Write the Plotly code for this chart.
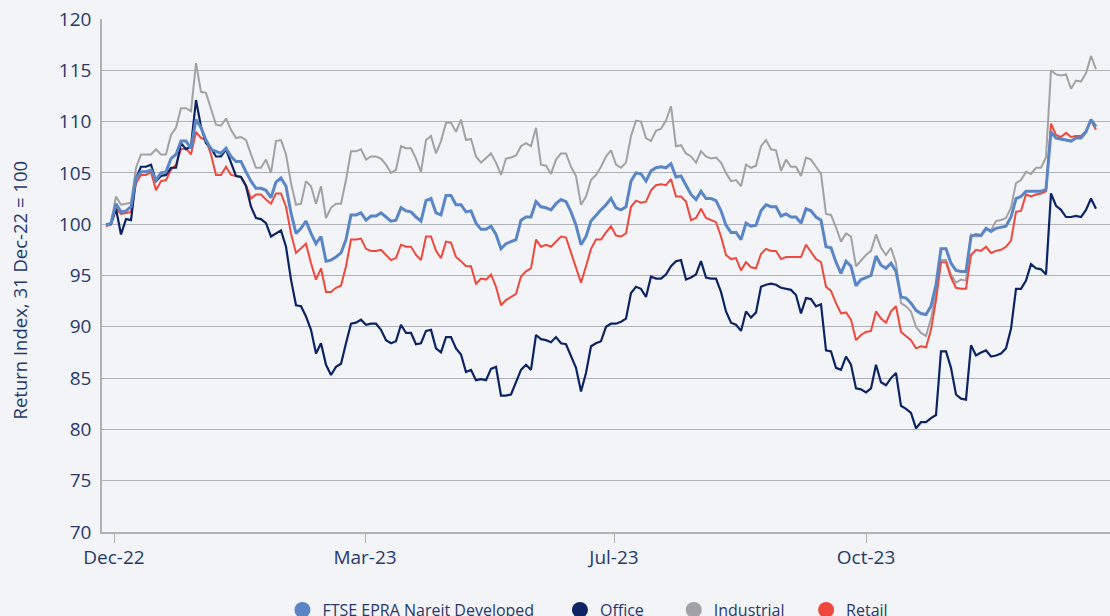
import plotly.graph_objects as go

# ---- data (one sample every ~1.8 days) ----
ftse = [99.9, 100.1, 102.0, 101.2, 101.3, 101.7, 104.5, 105.1, 105.1, 105.3, 104.3, 105.0, 105.1, 106.4, 106.8, 108.1, 108.1, 107.4, 110.2, 109.4, 108.2, 107.3, 107.1, 106.9, 107.4, 106.6, 106.1, 106.1, 105.1, 104.2, 103.5, 103.5, 103.3, 102.6, 104.1,
        104.5, 103.7, 101.1, 99.1, 99.6, 100.3, 99.1, 98.1, 98.8, 96.4, 96.5, 96.8, 97.2, 98.5, 100.9, 100.9, 101.1, 100.4, 100.8, 100.8, 101.1, 100.7, 100.3, 100.4, 101.6, 101.3, 101.2, 100.7,
        100.3, 102.3, 102.5, 101.1, 100.9, 102.8, 102.8, 101.9, 101.9, 101.2, 101.3, 100.1, 99.5, 99.5, 99.8, 99.0, 97.6, 98.1, 98.3, 98.5, 100.4, 100.7, 100.7, 102.2, 101.7, 101.6, 101.4, 102.0, 102.4,
        102.2, 101.2, 99.9, 98.0, 98.8, 100.3, 100.9, 101.4, 101.9, 102.5, 101.6, 101.4, 101.7, 104.2, 105.0, 104.9, 104.2, 105.2, 105.5, 105.6, 105.5, 105.9, 104.6, 104.7, 103.8, 102.9, 102.4, 103.2, 102.5,
        102.5, 102.3, 101.3, 99.9, 99.2, 99.2, 98.5, 100.1, 99.8, 99.9, 101.3, 101.9, 101.7, 101.7, 100.8, 101.0, 100.7, 100.7, 100.1, 101.5, 101.3, 100.7, 100.4, 97.8, 97.7, 96.3, 95.2, 96.4, 95.9,
        94.0, 94.6, 94.8, 95.0, 96.9, 96.0, 95.7, 96.2, 95.4, 92.9, 92.8, 92.3, 91.6, 91.3, 91.2, 92.0, 94.1, 97.6, 97.6, 96.2, 95.5, 95.4, 95.4, 98.8, 99.0, 98.9, 99.6, 99.3, 99.6,
        99.7, 99.8, 100.7, 102.5, 102.7, 103.2, 103.2, 103.2, 103.2, 103.4, 109.0, 108.4, 108.3, 108.2, 108.1, 108.4, 108.4, 109.0, 110.2, 109.5]

office = [100.0, 100.0, 101.5, 99.0, 100.5, 100.4, 104.5, 105.6, 105.6, 105.8, 104.2, 104.7, 104.8, 105.5, 105.5, 107.9, 107.3, 107.6, 112.1, 109.5, 107.9, 107.4, 106.6, 106.6, 107.3, 106.0, 104.7, 104.6, 103.7, 101.7, 100.6, 100.5, 100.1, 98.8, 99.1,
          99.4, 97.8, 94.6, 92.1, 92.0, 91.0, 89.7, 87.4, 88.4, 86.3, 85.3, 86.1, 86.4, 88.4, 90.3, 90.4, 90.7, 90.2, 90.3, 90.3, 89.7, 88.7, 88.4, 88.6, 90.2, 89.4, 89.4, 88.3,
          88.4, 89.6, 89.7, 87.9, 87.5, 89.0, 89.0, 87.9, 87.3, 85.6, 85.8, 84.8, 84.9, 84.8, 85.9, 86.1, 83.3, 83.3, 83.4, 84.6, 85.8, 86.3, 85.8, 89.2, 88.8, 88.7, 88.5, 89.0, 88.4,
          88.3, 87.1, 86.0, 83.7, 85.5, 88.1, 88.4, 88.6, 90.0, 90.3, 90.3, 90.5, 90.8, 93.3, 93.9, 93.7, 92.9, 94.9, 94.7, 94.7, 95.1, 95.9, 96.4, 96.5, 94.6, 94.8, 95.1, 96.4, 94.8,
          94.7, 94.7, 93.4, 91.5, 90.4, 90.2, 89.6, 91.5, 90.9, 91.4, 93.9, 94.1, 94.2, 94.1, 93.8, 93.7, 93.6, 93.1, 91.3, 92.8, 92.7, 92.0, 92.2, 87.7, 87.6, 86.0, 85.8, 87.1, 86.3,
          84.0, 83.9, 83.6, 84.0, 86.3, 84.6, 84.3, 85.0, 85.5, 82.3, 82.0, 81.6, 80.1, 80.7, 80.7, 81.1, 81.4, 87.6, 87.6, 86.0, 83.4, 83.0, 82.9, 88.2, 87.2, 87.5, 87.7, 87.1, 87.2,
          87.4, 87.9, 89.8, 93.7, 93.7, 94.5, 96.1, 95.7, 95.6, 95.1, 103.0, 101.8, 101.4, 100.7, 100.7, 100.8, 100.7, 101.4, 102.5, 101.5]

industrial = [99.9, 100.1, 102.7, 101.9, 102.0, 102.1, 105.5, 106.8, 106.8, 106.8, 107.3, 106.8, 106.8, 108.7, 109.4, 111.3, 111.3, 111.0, 115.7, 112.9, 112.8, 111.3, 109.7, 109.6, 110.3, 109.2, 108.4, 108.5, 108.2, 106.8, 105.5, 105.5, 106.3, 105.0, 108.1,
              108.2, 106.8, 104.0, 101.9, 102.0, 104.2, 103.7, 102.0, 103.7, 100.6, 101.6, 102.0, 102.0, 104.3, 107.1, 107.1, 107.3, 106.3, 106.6, 106.6, 106.4, 105.8, 105.0, 105.3, 107.6, 107.4, 107.4, 106.4,
              105.1, 108.2, 108.6, 106.9, 108.1, 109.9, 109.9, 109.0, 110.2, 108.2, 108.3, 106.6, 106.0, 106.5, 106.9, 106.0, 104.8, 106.4, 106.5, 106.7, 107.6, 107.9, 107.6, 109.4, 105.8, 105.7, 104.9, 106.3, 106.9,
              106.9, 105.6, 104.7, 101.9, 102.7, 104.3, 104.8, 105.6, 106.6, 107.2, 105.8, 105.5, 106.0, 108.6, 110.1, 110.0, 108.4, 108.1, 109.1, 109.3, 110.1, 111.5, 107.6, 107.7, 106.9, 106.6, 106.0, 107.1, 106.6,
              106.4, 106.5, 106.0, 105.0, 104.2, 104.3, 103.7, 105.8, 105.5, 105.7, 107.6, 108.2, 107.3, 107.2, 105.2, 106.3, 105.6, 105.6, 104.7, 106.5, 106.3, 105.6, 104.9, 101.0, 100.9, 99.7, 98.3, 99.1, 98.8,
              95.9, 96.5, 97.0, 97.4, 99.0, 97.7, 97.0, 97.7, 96.2, 92.3, 92.0, 91.5, 90.0, 89.4, 89.1, 90.8, 93.3, 96.5, 96.5, 95.1, 94.3, 94.6, 94.5, 99.0, 98.8, 98.9, 99.5, 99.4, 100.3,
              100.4, 100.6, 101.6, 104.0, 104.3, 105.1, 104.9, 105.5, 105.5, 106.5, 115.0, 114.6, 114.5, 114.6, 113.2, 114.0, 113.9, 114.7, 116.4, 115.1]

retail = [99.8, 100.0, 101.5, 101.0, 101.1, 101.2, 104.0, 104.8, 104.8, 105.1, 103.3, 104.2, 104.3, 105.3, 105.8, 107.3, 107.4, 106.8, 109.0, 108.4, 108.2, 106.8, 104.8, 104.8, 105.6, 104.8, 104.7, 104.6, 103.8, 102.5, 102.9, 102.9, 102.4, 102.0, 103.0,
          103.0, 101.7, 99.1, 97.2, 97.7, 98.1, 96.2, 94.6, 95.7, 93.4, 93.4, 93.8, 94.0, 95.9, 98.5, 98.5, 98.6, 97.6, 97.4, 97.4, 97.5, 97.0, 96.5, 96.7, 98.0, 97.8, 97.8, 97.0,
          96.5, 98.8, 98.8, 97.4, 96.7, 98.3, 98.2, 96.8, 96.4, 95.9, 95.9, 94.2, 94.7, 94.6, 95.1, 93.9, 92.1, 92.6, 92.9, 93.2, 94.9, 95.4, 95.7, 98.5, 97.8, 98.0, 97.8, 98.3, 98.8,
          98.7, 97.3, 95.7, 94.3, 95.9, 97.6, 98.5, 98.5, 99.2, 99.8, 98.9, 98.8, 99.1, 101.7, 102.3, 102.1, 102.2, 103.3, 103.8, 103.9, 103.8, 104.4, 102.7, 102.7, 102.2, 100.4, 100.6, 101.5, 100.6,
          100.4, 100.2, 98.8, 97.0, 96.6, 96.7, 95.5, 96.3, 95.8, 95.7, 97.1, 97.6, 97.4, 97.4, 96.6, 96.8, 96.8, 96.8, 96.8, 98.0, 97.3, 96.6, 96.3, 93.9, 93.5, 92.3, 91.3, 91.4, 90.7,
          88.7, 89.2, 89.5, 89.6, 91.5, 90.8, 90.4, 91.5, 92.0, 89.5, 89.1, 88.7, 87.9, 88.1, 88.0, 89.7, 92.6, 96.3, 96.3, 94.8, 93.8, 93.7, 93.7, 97.0, 97.5, 97.4, 97.8, 97.2, 97.4,
          97.5, 97.8, 98.4, 101.2, 101.3, 102.9, 102.7, 102.9, 103.0, 103.2, 109.8, 108.7, 108.5, 108.9, 108.5, 108.6, 108.6, 109.1, 110.1, 109.2]

series_names = ["FTSE EPRA Nareit Developed", "Office", "Industrial", "Retail"]
series_colors = ["#5a86c6", "#0c2461", "#a2a2a5", "#ef483c"]
series_widths = [3.0, 2.2, 2.0, 2.0]
legend_pad = [5, 6, 4, 0]   # trailing spaces after each legend label

tick_labels = ["Dec-22", "Mar-23", "Jul-23", "Oct-23"]
tick_positions = [1.6, 51.8, 101.6, 152.0]   # sample index of each label

n = len(ftse)
sample_idx = list(range(n))

values = {
    "FTSE EPRA Nareit Developed": ftse,
    "Office": office,
    "Industrial": industrial,
    "Retail": retail,
}

BG = "#f2f4f8"
GRID = "#b0b2ba"
TXT = "#27396b"
FONT = "Open Sans"

fig = go.Figure()

# drawing order: industrial, retail, office, then the index on top
draw_order = ["Industrial", "Retail", "Office", "FTSE EPRA Nareit Developed"]
for name in draw_order:
    k = series_names.index(name)
    fig.add_trace(go.Scatter(
        x=sample_idx, y=values[name], mode="lines", name=name,
        line=dict(color=series_colors[k], width=series_widths[k]),
        showlegend=False, hoverinfo="skip",
    ))

# legend entries with round markers
for k, name in enumerate(series_names):
    fig.add_trace(go.Scatter(
        x=[None], y=[None], mode="markers", name=name + "\u00a0" * legend_pad[k],
        marker=dict(color=series_colors[k], size=16, symbol="circle"),
        showlegend=True, legendrank=k + 1, hoverinfo="skip",
    ))

fig.update_layout(
    width=1110, height=616,
    paper_bgcolor=BG, plot_bgcolor=BG,
    margin=dict(l=102, r=0, t=19, b=84, autoexpand=False),
    font=dict(family=FONT, color=TXT),
    showlegend=True,
    legend=dict(
        orientation="h", x=0.179, xanchor="left", y=-0.152, yanchor="middle",
        font=dict(family=FONT, size=16, color=TXT),
        bgcolor="rgba(0,0,0,0)", itemclick=False, itemdoubleclick=False,
    ),
    xaxis=dict(
        range=[-0.8, 200.8], tickmode="array", tickvals=tick_positions, ticktext=tick_labels,
        showgrid=False, zeroline=False, showline=True, linecolor=GRID, linewidth=1.5,
        ticks="outside", ticklen=9, tickcolor=GRID, tickwidth=1,
        tickfont=dict(family=FONT, size=19, color=TXT), ticklabelstandoff=-2,
    ),
    yaxis=dict(
        range=[70, 120], tickmode="linear", tick0=70, dtick=5,
        showgrid=True, gridcolor=GRID, gridwidth=1.3, zeroline=False,
        showline=True, linecolor=GRID, linewidth=1.5, ticks="",
        tickfont=dict(family=FONT, size=19, color=TXT), ticklabelstandoff=5,
    ),
    annotations=[dict(
        text="Return Index, 31 Dec-22 = 100", textangle=-90,
        xref="paper", yref="paper", x=-0.0823, y=0.4708,
        xanchor="center", yanchor="middle", showarrow=False,
        font=dict(family=FONT, size=18.5, color=TXT),
    )],
)

# remove the default page margin so the figure sits at the window's top-left corner
fig.write_html(
    "out.html",
    config={"displayModeBar": False},
    post_script="document.body.style.margin='0px';document.body.style.background='" + BG + "';",
)
